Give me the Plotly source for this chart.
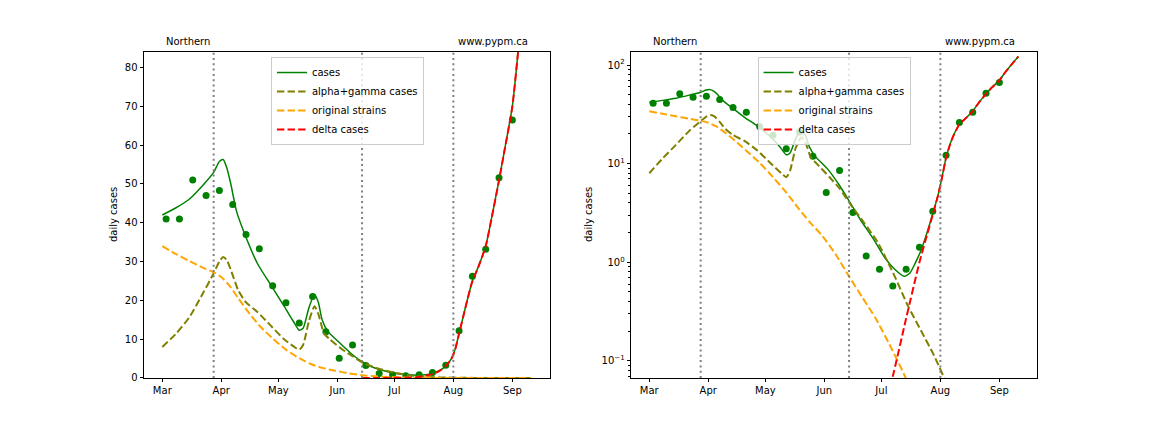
import plotly.graph_objects as go

# ---------------- data ----------------
obs_dates = ["2021-03-03", "2021-03-10", "2021-03-17", "2021-03-24", "2021-03-31",
             "2021-04-07", "2021-04-14", "2021-04-21", "2021-04-28", "2021-05-05",
             "2021-05-12", "2021-05-19", "2021-05-26", "2021-06-02", "2021-06-09",
             "2021-06-16", "2021-06-23", "2021-06-30", "2021-07-07", "2021-07-14",
             "2021-07-21", "2021-07-28", "2021-08-04", "2021-08-11", "2021-08-18",
             "2021-08-25", "2021-09-01"]
obs_cases = [41, 41, 51, 47, 48.3, 44.7, 37, 33.3, 23.8, 19.4,
             14.2, 21, 11.9, 5.1, 8.5, 3.2, 1.16, 0.85, 0.575, 0.85,
             1.42, 3.3, 12.2, 26.2, 33.2, 51.6, 66.5]

cases_dates = ["2021-03-01", "2021-03-08", "2021-03-15", "2021-03-22", "2021-03-28",
               "2021-03-31", "2021-04-02", "2021-04-04", "2021-04-06", "2021-04-09",
               "2021-04-13", "2021-04-20", "2021-04-27", "2021-05-04", "2021-05-09",
               "2021-05-12", "2021-05-14", "2021-05-17", "2021-05-20", "2021-05-22",
               "2021-05-24", "2021-05-27", "2021-06-03", "2021-06-09", "2021-06-14",
               "2021-06-20", "2021-06-27", "2021-07-03", "2021-07-08", "2021-07-13",
               "2021-07-16", "2021-07-19", "2021-07-22", "2021-07-25", "2021-07-28",
               "2021-07-31", "2021-08-02", "2021-08-04", "2021-08-06", "2021-08-08",
               "2021-08-11", "2021-08-14", "2021-08-18", "2021-08-21", "2021-08-25",
               "2021-08-28", "2021-09-01", "2021-09-04", "2021-09-07", "2021-09-11"]
cases_vals = [42, 43.8, 46, 49.5, 53,
              55.8, 56.3, 54, 50, 43,
              37.5, 29.5, 24, 18.5, 14.5,
              12.3, 12.8, 18, 21.5, 19.5,
              15, 12, 8.7, 6.0, 4.2,
              2.7, 1.7, 1.1, 0.85, 0.72,
              0.78, 1.0, 1.35, 2.0, 3.1,
              5.0, 7.5, 11.5, 15.5, 19.5,
              25, 28.5, 34, 41, 51,
              59, 70, 84, 99, 122]

alpha_dates = ["2021-03-01", "2021-03-08", "2021-03-15", "2021-03-22", "2021-03-28",
               "2021-03-31", "2021-04-02", "2021-04-04", "2021-04-07", "2021-04-10",
               "2021-04-14", "2021-04-20", "2021-04-27", "2021-05-04", "2021-05-10",
               "2021-05-12", "2021-05-14", "2021-05-17", "2021-05-20", "2021-05-22",
               "2021-05-25", "2021-05-28", "2021-06-04", "2021-06-09", "2021-06-15",
               "2021-06-22", "2021-06-29", "2021-07-08", "2021-07-15", "2021-07-22",
               "2021-07-29", "2021-08-05", "2021-08-12", "2021-08-19", "2021-08-26",
               "2021-09-02", "2021-09-11"]
alpha_vals = [8.0, 11.3, 15.5, 21.5, 27,
              30, 31.2, 30.3, 26.5, 22.5,
              19.5, 17, 13.5, 10, 7.8,
              7.3, 8.5, 14.5, 18.5, 16.5,
              11.5, 10, 7.2, 5.6, 3.8,
              2.5, 1.6, 0.72, 0.36, 0.2,
              0.11, 0.055, 0.027, 0.013, 0.0065,
              0.0032, 0.0013]

orig_dates = ["2021-03-01", "2021-03-08", "2021-03-15", "2021-03-22", "2021-03-29",
              "2021-04-01", "2021-04-05", "2021-04-10", "2021-04-16", "2021-04-22",
              "2021-04-28", "2021-05-05", "2021-05-12", "2021-05-18", "2021-05-24",
              "2021-05-31", "2021-06-07", "2021-06-14", "2021-06-21", "2021-06-28",
              "2021-07-05", "2021-07-12", "2021-07-19", "2021-07-26", "2021-08-02",
              "2021-08-09", "2021-08-16", "2021-08-23", "2021-08-30", "2021-09-11"]
orig_vals = [34, 32, 30.2, 28.5, 27,
             26, 24, 20.5, 16.5, 13,
             10.2, 7.3, 5.1, 3.6, 2.6,
             1.85, 1.2, 0.72, 0.44, 0.27,
             0.15, 0.08, 0.04, 0.02, 0.0095,
             0.0045, 0.002, 0.0009, 0.0004, 0.0001]

delta_dates = ["2021-06-14", "2021-06-21", "2021-06-28", "2021-07-05", "2021-07-07",
               "2021-07-14", "2021-07-21", "2021-07-25", "2021-07-28", "2021-07-31",
               "2021-08-02", "2021-08-04", "2021-08-06", "2021-08-08", "2021-08-11",
               "2021-08-14", "2021-08-18", "2021-08-21", "2021-08-25", "2021-08-28",
               "2021-09-01", "2021-09-04", "2021-09-07", "2021-09-11"]
delta_vals = [0.0015, 0.005, 0.017, 0.052, 0.07,
              0.27, 1.0, 1.9, 3.05, 4.95,
              7.45, 11.45, 15.45, 19.45, 24.95,
              28.45, 33.95, 40.95, 50.95, 58.95,
              69.95, 83.95, 98.95, 121.95]

phase_dates = ["2021-03-28", "2021-06-14", "2021-08-01"]

region_label = "Northern"
site_label = "www.pypm.ca"
y_label = "daily cases"

# ---------------- figure ----------------
FONT = "DejaVu Sans"
fig = go.Figure()

panels = [("x", "y", "legend"), ("x2", "y2", "legend2")]
for xa, ya, lg in panels:
    fig.add_trace(go.Scatter(x=obs_dates, y=obs_cases, mode="markers",
                             marker=dict(color="green", size=7),
                             showlegend=False, xaxis=xa, yaxis=ya))
    fig.add_trace(go.Scatter(x=cases_dates, y=cases_vals, mode="lines", name="cases",
                             line=dict(color="green", width=1.5, shape="spline", smoothing=0.6),
                             legend=lg, xaxis=xa, yaxis=ya))
    fig.add_trace(go.Scatter(x=alpha_dates, y=alpha_vals, mode="lines", name="alpha+gamma cases",
                             line=dict(color="olive", width=2, dash="7.4px,3.2px",
                                       shape="spline", smoothing=0.6),
                             legend=lg, xaxis=xa, yaxis=ya))
    fig.add_trace(go.Scatter(x=orig_dates, y=orig_vals, mode="lines", name="original strains",
                             line=dict(color="orange", width=2, dash="7.4px,3.2px",
                                       shape="spline", smoothing=0.6),
                             legend=lg, xaxis=xa, yaxis=ya))
    fig.add_trace(go.Scatter(x=delta_dates, y=delta_vals, mode="lines", name="delta cases",
                             line=dict(color="red", width=2, dash="7.4px,3.2px",
                                       shape="spline", smoothing=0.6),
                             legend=lg, xaxis=xa, yaxis=ya))
    for d in phase_dates:
        fig.add_shape(type="line", xref=xa, yref=ya + " domain", x0=d, x1=d, y0=0, y1=1,
                      line=dict(color="#808080", width=2, dash="2px,3.3px"))

xr = ["2021-02-19 09:00", "2021-09-20 19:00"]
common_x = dict(type="date", range=xr, tickmode="linear", tick0="2021-03-01", dtick="M1",
                tickformat="%b", showgrid=False, zeroline=False, showline=True, mirror=True,
                linecolor="black", linewidth=0.8, ticks="outside", ticklen=3.5, tickwidth=0.8,
                tickcolor="black", automargin=False,
                tickfont=dict(family=FONT, size=10, color="black"))
common_y = dict(showgrid=False, zeroline=False, showline=True, mirror=True,
                linecolor="black", linewidth=0.8, ticks="outside", ticklen=3.5, tickwidth=0.8,
                tickcolor="black", automargin=False,
                tickfont=dict(family=FONT, size=10, color="black"))

ydom = [0.125, 0.87963]
fig.update_layout(
    template="none",
    width=1152, height=432, autosize=False,
    margin=dict(l=0, r=0, t=0, b=0, pad=0, autoexpand=False),
    paper_bgcolor="white", plot_bgcolor="white",
    font=dict(family=FONT, size=10, color="black"),
    xaxis=dict(domain=[0.125, 0.47743], anchor="y", **common_x),
    xaxis2=dict(domain=[0.54774, 0.90017], anchor="y2", **common_x),
    yaxis=dict(domain=ydom, anchor="x", range=[0, 84], tickmode="linear", tick0=0, dtick=10,
               **common_y),
    yaxis2=dict(domain=ydom, anchor="x2", type="log", range=[-1.173, 2.132],
                tickmode="array", tickvals=[0.1, 1, 10, 100],
                ticktext=["10<sup>\u22121</sup>", "10<sup>0</sup>", "10<sup>1</sup>", "10<sup>2</sup>"],
                minor=dict(ticks="outside", ticklen=2, tickwidth=0.6, tickcolor="black",
                           dtick="D1", showgrid=False),
                **common_y),
    legend=dict(x=0.3016, xanchor="center", y=0.868, yanchor="top",
                bgcolor="rgba(255,255,255,0.8)", bordercolor="#cccccc", borderwidth=1,
                font=dict(family=FONT, size=10, color="black")),
    legend2=dict(x=0.724, xanchor="center", y=0.868, yanchor="top",
                 bgcolor="rgba(255,255,255,0.8)", bordercolor="#cccccc", borderwidth=1,
                 font=dict(family=FONT, size=10, color="black")),
)

for xa, ya, xlab in [("x", "y", 0.099), ("x2", "y2", 0.5113)]:
    fig.add_annotation(text=region_label, xref=xa + " domain", yref=ya + " domain",
                       x=0.05, y=1.01, xanchor="left", yanchor="bottom", showarrow=False,
                       font=dict(family=FONT, size=10, color="black"))
    fig.add_annotation(text=site_label, xref=xa + " domain", yref=ya + " domain",
                       x=0.95, y=1.01, xanchor="right", yanchor="bottom", showarrow=False,
                       font=dict(family=FONT, size=10, color="black"))
    fig.add_annotation(text=y_label, xref="paper", yref=ya + " domain",
                       x=xlab, y=0.5, xanchor="center", yanchor="middle", textangle=-90,
                       showarrow=False, font=dict(family=FONT, size=10, color="black"))

fig.write_html("out.html", config={"displayModeBar": False},
               post_script="document.body.style.margin='0px';document.body.style.overflow='hidden';")
